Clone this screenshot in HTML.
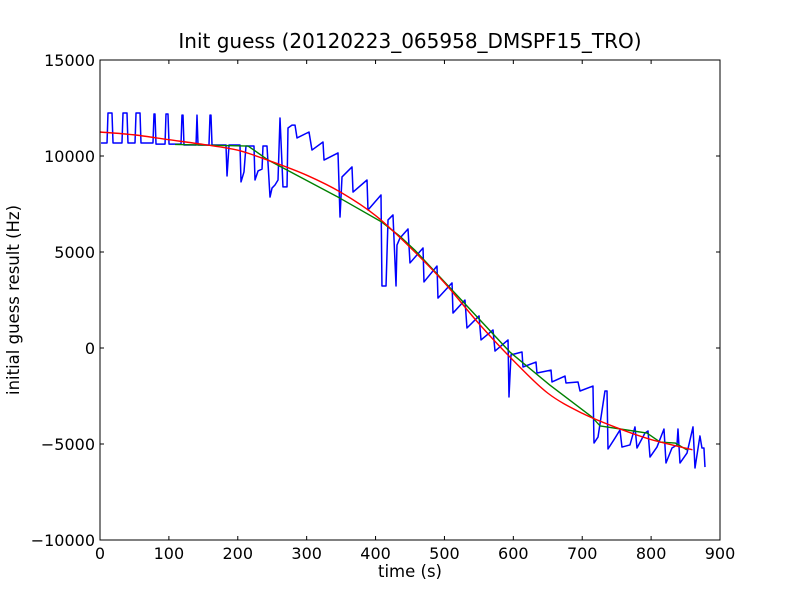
<!DOCTYPE html>
<html><head><meta charset="utf-8"><style>
html,body{margin:0;padding:0;background:#fff;}
svg{display:block;font-family:"DejaVu Sans","Liberation Sans",sans-serif;}
</style></head><body>
<svg id="chart" width="800" height="600" viewBox="0 0 800 600">
<rect x="0" y="0" width="800" height="600" fill="#fff"/>
<text x="410" y="48" font-size="20" text-anchor="middle">Init guess (20120223_065958_DMSPF15_TRO)</text>
<text x="410" y="577" font-size="16.5" text-anchor="middle">time (s)</text>
<text x="19" y="300" font-size="16.5" text-anchor="middle" transform="rotate(-90 19 300)">initial guess result (Hz)</text>
<g id="plot"></g>
</svg>
<script>
const xTicks=[0,100,200,300,400,500,600,700,800,900];
const yTicks=[-10000,-5000,0,5000,10000,15000];
const yTickLabels=["\u221210000","\u22125000","0","5000","10000","15000"];
const blueT=[1.5,10.2,11.6,17.4,18.9,31.9,33.4,39.2,40.6,50.8,52.3,58.1,59.5,76.9,78.4,79.8,81.3,94.4,95.8,98.7,100.2,117.6,119,120.5,121.9,139.4,140.8,142.3,158.2,159.7,161.1,162.6,182.9,184.4,187.3,203.2,204.7,209,211.9,214.8,223.5,225,229.4,235.2,236.6,242.4,246.8,249.7,254,258.4,261.3,265.6,271.5,272.9,278.7,283.1,286,303.4,307.7,323.7,325.2,345.5,348.4,351.3,365.8,367.3,387.6,389,407.9,409.3,415.2,418.1,425.3,429.7,431.1,435.5,447.1,450,468.9,470.3,489.2,490.6,511,512.4,529.8,532.7,550.2,553.1,570.5,573.4,592.3,593.7,596.6,612.6,614,632.9,634.3,654.7,656.1,675,676.4,693.9,696.8,715.6,717.1,722.9,733,736,737.4,747.6,754.8,757.7,769.3,776.6,779.5,791.1,795.5,798.4,808.5,818.7,821.6,830.3,837.6,839,841.9,852.1,860.8,863.7,870.9,873.8,876.7,878.2];
const blueV=[10680,10680,12240,12240,10680,10680,12240,12240,10680,10680,12240,12240,10680,10680,12190,12190,10620,10620,12190,12190,10620,10620,12130,12130,10570,10570,12130,10570,10570,12130,12130,10570,10570,8960,10570,10570,8650,9170,10520,10520,10520,8750,9220,9320,10520,10520,7860,8330,8490,8750,11980,8390,8390,11460,11610,11610,10940,11250,10310,10730,9790,10160,6820,8910,9430,8120,8750,7190,7970,3230,3230,6670,6930,3230,5360,5730,6200,4430,5210,3440,4270,2600,3390,1820,2500,1040,1670,420,940,-160,420,-2550,-360,-210,-990,-730,-1300,-1150,-1770,-1460,-1820,-1770,-2240,-1980,-4950,-4640,-2240,-2240,-5260,-4690,-4270,-5160,-5050,-4110,-5210,-4430,-4320,-5680,-5160,-4220,-5990,-5210,-5050,-4220,-5990,-5470,-4110,-6250,-4580,-5210,-5210,-6200];
const greenT=[109,215,244,348,409,435,457,595,653,714,726,794,813,835,852];
const greenV=[10600,10520,9790,7810,6560,5830,5100,-210,-1930,-3590,-4060,-4430,-4900,-4950,-5310];
const redT=[0,50,100,150,200,250,300,350,400,450,500,550,600,650,700,750,800,860];
const redV=[11250,11100,10850,10600,10300,9700,9000,8100,6900,5250,3400,1270,-650,-2350,-3400,-4150,-4770,-5300];

const X0=100,X1=720,Y0=540,Y1=60;
const xs=t=>X0+(t-0)/900*(X1-X0);
const ys=v=>Y0-(v+10000)/25000*(Y0-Y1);
const NS="http://www.w3.org/2000/svg";
const plot=document.getElementById('plot');
function mk(tag,attrs,parent){const e=document.createElementNS(NS,tag);for(const k in attrs)e.setAttribute(k,attrs[k]);(parent||plot).appendChild(e);return e;}

function line(T,V,color,name,smooth,w){
  let d;
  if(!smooth){d=T.map((t,i)=>(i?'L':'M')+xs(t).toFixed(2)+' '+ys(V[i]).toFixed(2)).join(' ');}
  else{
    const P=T.map((t,i)=>[xs(t),ys(V[i])]);
    d='M'+P[0][0]+' '+P[0][1];
    for(let i=0;i<P.length-1;i++){
      const p0=P[Math.max(0,i-1)],p1=P[i],p2=P[i+1],p3=P[Math.min(P.length-1,i+2)];
      const c1=[p1[0]+(p2[0]-p0[0])/6,p1[1]+(p2[1]-p0[1])/6];
      const c2=[p2[0]-(p3[0]-p1[0])/6,p2[1]-(p3[1]-p1[1])/6];
      d+=` C${c1[0].toFixed(2)} ${c1[1].toFixed(2)} ${c2[0].toFixed(2)} ${c2[1].toFixed(2)} ${p2[0].toFixed(2)} ${p2[1].toFixed(2)}`;
    }
  }
  const p=mk('path',{d:d,fill:'none',stroke:color,'stroke-width':w,'stroke-linejoin':'round'});
  
  
}
line(blueT,blueV,'#0000ff','blue-series',false,1.5);
line(greenT,greenV,'#008000','green-series',false,1.4);
line(redT,redV,'#ff0000','red-fit-series',true,1.4);

const frame=mk('rect',{x:X0,y:Y1,width:X1-X0,height:Y0-Y1,fill:'none',stroke:'#000','stroke-width':1});



xTicks.forEach(t=>{
  const x=xs(t);
  mk('line',{x1:x,y1:Y0,x2:x,y2:Y0-4,stroke:'#000'});
  mk('line',{x1:x,y1:Y1,x2:x,y2:Y1+4,stroke:'#000'});
  const tx=mk('text',{x:x,y:Y0+19,'font-size':16,'text-anchor':'middle'});
  tx.textContent=String(t);
  
  
});
yTicks.forEach((v,i)=>{
  const y=ys(v);
  mk('line',{x1:X0,y1:y,x2:X0+4,y2:y,stroke:'#000'});
  mk('line',{x1:X1,y1:y,x2:X1-4,y2:y,stroke:'#000'});
  const tx=mk('text',{x:X0-5,y:y+6,'font-size':16,'text-anchor':'end'});
  tx.textContent=yTickLabels[i];
  
  
});
</script>
</body></html>
